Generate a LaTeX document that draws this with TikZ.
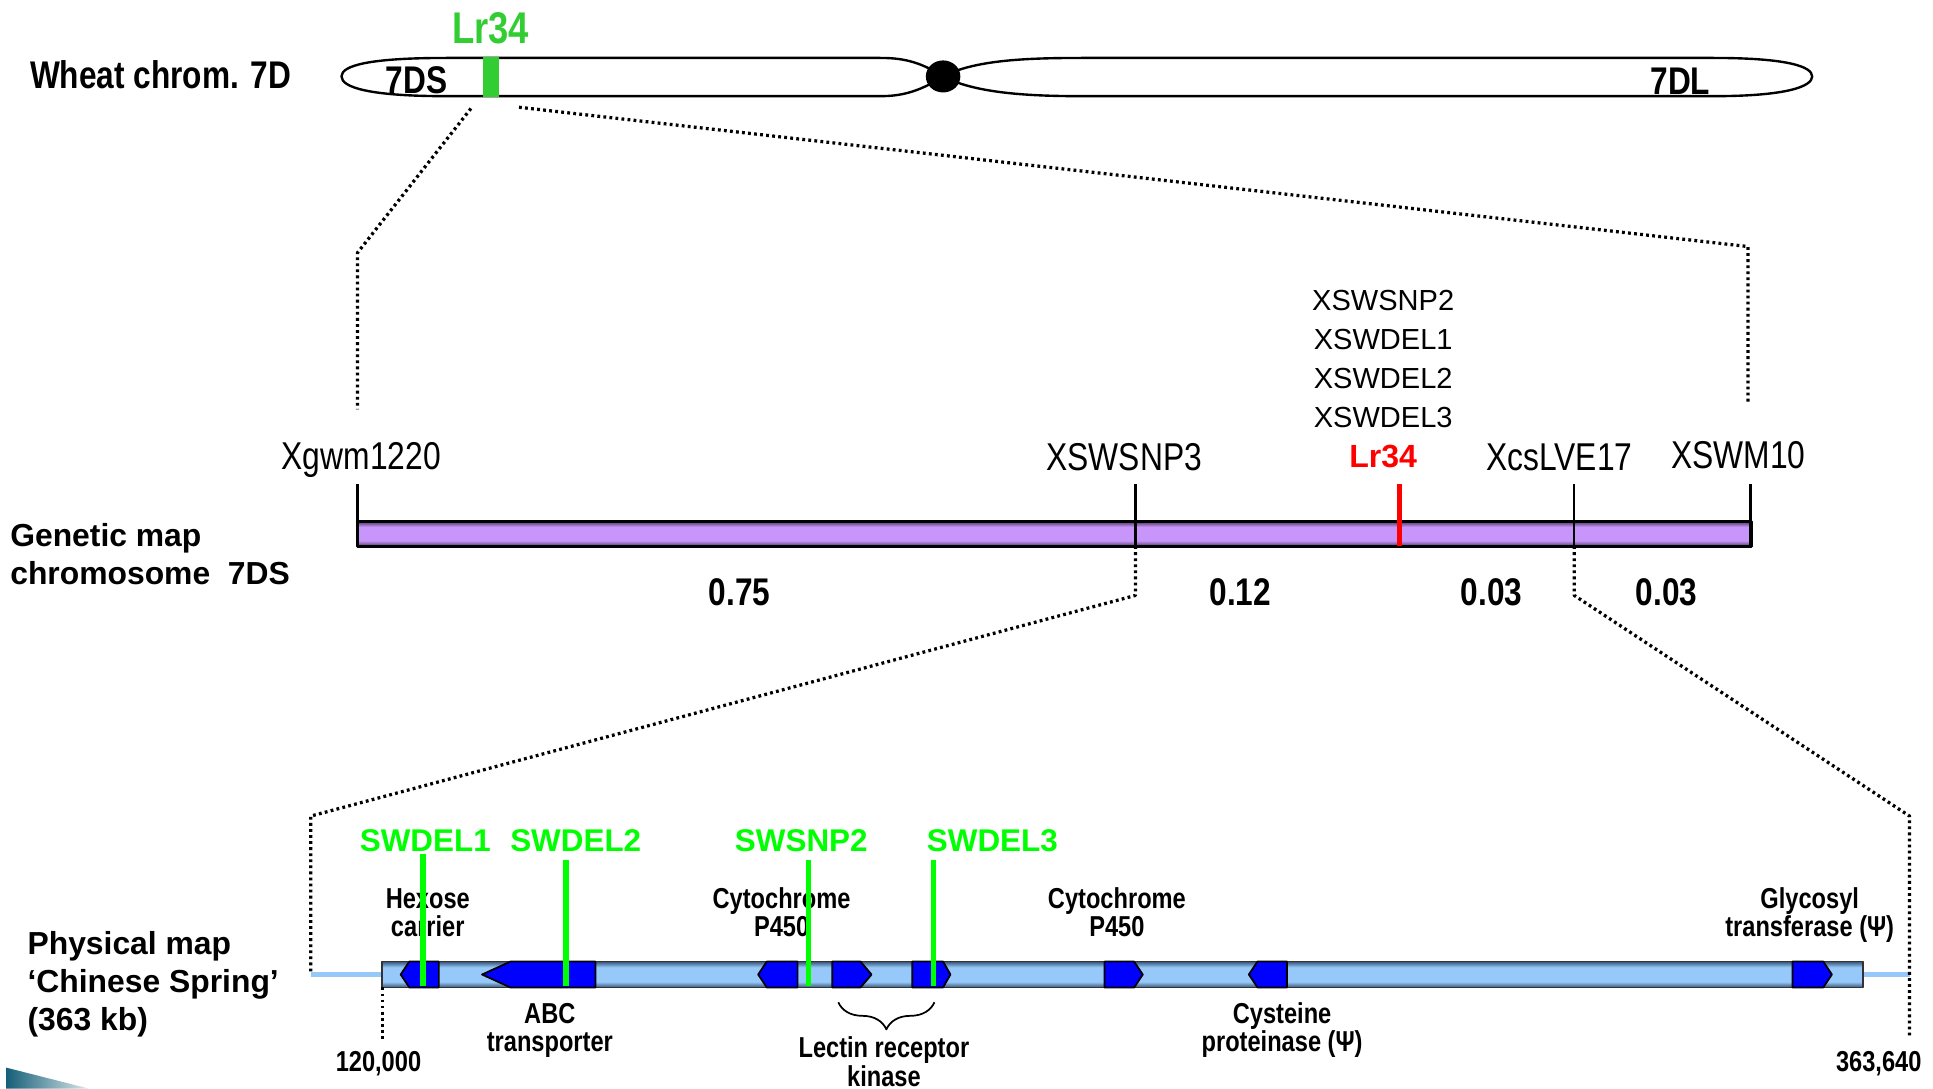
\documentclass[tikz,border=0pt]{standalone}
\usepackage{fontspec}
\setmainfont{Liberation Sans}
\newfontfamily\narrowfont{Liberation Sans}[FakeStretch=0.82]
\usetikzlibrary{calc}
\usetikzlibrary{decorations.pathreplacing}

\definecolor{lrGreen}{RGB}{50,205,50}
\definecolor{markGreen}{RGB}{0,255,0}
\definecolor{mapPurple}{RGB}{200,150,250}
\definecolor{mapPurpleDark}{RGB}{80,55,105}
\definecolor{physBlue}{RGB}{150,200,250}
\definecolor{physBlueDark}{RGB}{55,85,120}
\definecolor{geneBlue}{RGB}{0,0,255}
\definecolor{slideTeal}{RGB}{20,95,120}

% tube look of the two map bars
\pgfdeclareverticalshading{tubePurple}{100bp}{color(0bp)=(mapPurpleDark); color(25bp)=(mapPurpleDark); color(36bp)=(mapPurple); color(64bp)=(mapPurple); color(75bp)=(mapPurpleDark); color(100bp)=(mapPurpleDark)}
\pgfdeclareverticalshading{tubeBlue}{100bp}{color(0bp)=(physBlueDark); color(25bp)=(physBlueDark); color(36bp)=(physBlue); color(64bp)=(physBlue); color(75bp)=(physBlueDark); color(100bp)=(physBlueDark)}

\begin{document}
\begin{tikzpicture}[
    x=0.2mm, y=-0.2mm,
    line join=round,
    chromText/.style  = {font=\narrowfont\bfseries\fontsize{17.8}{20}\selectfont, anchor=base, inner sep=0pt},
    markerText/.style = {font=\narrowfont\fontsize{17.9}{20}\selectfont, anchor=base, inner sep=0pt},
    stackText/.style  = {font=\fontsize{13.4}{16}\selectfont, anchor=base, inner sep=0pt},
    sideText/.style   = {font=\bfseries\fontsize{14.7}{16}\selectfont, anchor=base west, inner sep=0pt},
    geneText/.style   = {font=\narrowfont\bfseries\fontsize{13.3}{15}\selectfont, anchor=base, inner sep=0pt},
    delText/.style    = {font=\bfseries\fontsize{14.5}{16}\selectfont, text=markGreen, anchor=base, inner sep=0pt},
    linkLine/.style   = {line width=1.5pt, dash pattern=on 1.3pt off 1.5pt},
    ]

    % Determines the boundries
    \path[use as bounding box] (0,0) rectangle (1568,883);

    \def\chromTop{47}
    \def\chromBot{78}
    \def\chromMid{62}
    \def\cenX{765}          % centromere
    \def\mapTop{423}        % genetic map bar
    \def\mapBot{443}
    \def\tickTop{393}
    \def\physTop{780}       % physical map bar
    \def\physBot{801}
    \def\physMid{790.5}

    % ends of the dotted zoom lines
    \coordinate (chromL)   at (382,88);
    \coordinate (chromR)   at (421,87);
    \coordinate (gmKneeL)  at (290,205);
    \coordinate (gmKneeR)  at (1418,200);
    \coordinate (gmEndL)   at (290,332);
    \coordinate (gmEndR)   at (1418,327);
    \coordinate (snpBot)   at (921,\mapBot);
    \coordinate (snpKnee)  at (921,483);
    \coordinate (lveBot)   at (1277,\mapBot);
    \coordinate (lveKnee)  at (1277,483);
    \coordinate (pmKneeL)  at (252,662);
    \coordinate (pmKneeR)  at (1549,662);
    \coordinate (stubL)    at (252,\physMid);
    \coordinate (stubR)    at (1549,\physMid);
    \coordinate (pmEndR)   at (1549,840);
    \coordinate (barL)     at (310,\physMid);
    \coordinate (barR)     at (1511,\physMid);
    \coordinate (startTop) at (310,\physBot);
    \coordinate (startBot) at (310,845);

    % ---- Wheat chromosome 7D ----
    \node[chromText, anchor=base west] (wheatLbl) at (24,72) {Wheat chrom. 7D};

    % short arm
    \draw[line width=1.1pt] (\cenX,\chromMid)
        .. controls (745,49) and (730,\chromTop) .. (714,\chromTop) -- (362,\chromTop)
        .. controls (300,\chromTop) and (277,53) .. (277,\chromMid)
        .. controls (277,71) and (300,\chromBot) .. (362,\chromBot) -- (714,\chromBot)
        .. controls (730,\chromBot) and (745,75) .. (\cenX,\chromMid);
    % long arm
    \draw[line width=1.1pt] (\cenX,\chromMid)
        .. controls (790,49) and (830,\chromTop) .. (877,\chromTop) -- (1390,\chromTop)
        .. controls (1450,\chromTop) and (1470,54) .. (1470,\chromMid)
        .. controls (1470,70) and (1450,\chromBot) .. (1390,\chromBot) -- (877,\chromBot)
        .. controls (830,\chromBot) and (790,75) .. (\cenX,\chromMid);
    \fill[black] (\cenX,\chromMid) ellipse [x radius=14, y radius=13];
    \fill[lrGreen] (392,46) rectangle (405,79);

    \node[chromText] (armS) at (338,76) {7DS};
    \node[chromText] (armL) at (1363,77) {7DL};
    \node[chromText, font=\narrowfont\bfseries\fontsize{20.5}{22}\selectfont, text=lrGreen] (lrTop) at (398,35) {Lr34};

    % ---- Genetic map ----
    \node[sideText] (genLbl)   at (8,443) {Genetic map};
    \node[sideText] (chromLbl) at (8,474) {chromosome\ \ 7DS};

    \shade[shading=tubePurple] (290,\mapTop) rectangle (1421,\mapBot);
    \draw[line width=1.4pt] (290,\mapTop) rectangle (1421,\mapBot);

    \foreach \x/\name/\txt/\bl in {293/xgwm/Xgwm1220/381, 912/xsnpThree/XSWSNP3/382,
                                   1265/xlve/XcsLVE17/382, 1410/xswm/XSWM10/380}{
        \node[markerText] (\name) at (\x,\bl) {\txt};
    }
    \foreach \x in {290,921,1277,1420}{
        \draw[line width=1.1pt] (\x,\tickTop) -- (\x,\mapBot);
    }
    \draw[red, line width=2.2pt] (1135,\tickTop) -- (1135,\mapBot);

    \node[stackText, font=\bfseries\fontsize{14.8}{16}\selectfont, text=red] (lrMap) at (1122,379) {Lr34};
    \foreach \txt [count=\i] in {XSWSNP2,XSWDEL1,XSWDEL2,XSWDEL3}{
        \node[stackText] (stack\i) at (1122,{252+31.7*(\i-1)}) {\txt};
    }
    \foreach \x/\d [count=\i] in {600/0.75, 1006/0.12, 1210/0.03, 1352/0.03}{
        \node[chromText] (dist\i) at (\x,491) {\d};
    }

    % ---- Physical map ----
    \node[sideText] (physLbl)   at (22,774) {Physical map};
    \node[sideText] (springLbl) at (22,805) {‘Chinese Spring’};
    \node[sideText] (sizeLbl)   at (22,836) {(363 kb)};

    \draw[physBlue, line width=1.9pt] (stubL) -- (barL);
    \draw[physBlue, line width=1.9pt] (barR) -- (stubR);
    \shade[shading=tubeBlue] (310,\physTop) rectangle (1511,\physBot);
    \draw[line width=0.8pt, black!80] (310,\physTop) rectangle (1511,\physBot);

    % genes: flat end / tip / signed tip length
    \foreach \xs/\xt/\tl in {356/325/-7, 483/391/-23, 647/615/-7, 675/707/9,
                             740/771/6, 896/927/7, 1044/1013/-7, 1454/1486/7}{
        \draw[fill=geneBlue, line width=0.8pt]
            (\xs,\physTop) -- (\xt-\tl,\physTop) -- (\xt,\physMid)
            -- (\xt-\tl,\physBot) -- (\xs,\physBot) -- cycle;
    }

    \def\geneLbl#1#2#3#4#5{
        \node[geneText] (#1Top) at (#2,#3) {#4};
        \node[geneText] (#1Bot) at (#2,#3+23) {#5};
    }
    \geneLbl{hexose}{347}{737}{Hexose}{carrier}
    \geneLbl{cypA}{634}{737}{Cytochrome}{P450}
    \geneLbl{cypB}{906}{737}{Cytochrome}{P450}
    \geneLbl{glyco}{1468}{737}{Glycosyl}{transferase (Ψ)}
    \geneLbl{abc}{446}{830}{ABC}{transporter}
    \geneLbl{lectin}{717}{858}{Lectin receptor}{kinase}
    \geneLbl{cyst}{1040}{830}{Cysteine}{proteinase (Ψ)}

    \draw[line width=0.8pt, decorate, decoration={brace, amplitude=4.4mm}] (758,813) -- (680,813);

    \node[geneText] (startPos) at (307,869) {120,000};
    \node[geneText] (endPos)   at (1524,869) {363,640};

    % markers on the physical map
    \foreach \x/\top/\txt/\lx in {343/693/SWDEL1/345, 459/698/SWDEL2/467,
                                  656/698/SWSNP2/650, 757/698/SWDEL3/805}{
        \draw[markGreen, line width=2.5pt] (\x,\top) -- (\x,800);
        \node[delText] (\txt) at (\lx,691) {\txt};
    }

    % ---- dotted zoom lines ----
    \draw[linkLine] (chromL) -- (gmKneeL) -- (gmEndL);
    \draw[linkLine] (chromR) -- (gmKneeR) -- (gmEndR);
    \draw[linkLine] (snpBot) -- (snpKnee) -- (pmKneeL) -- (stubL);
    \draw[linkLine] (lveBot) -- (lveKnee) -- (pmKneeR) -- (pmEndR);
    \draw[linkLine] (startTop) -- (startBot);

    % slide corner
    \shade[left color=slideTeal, right color=slideTeal!15] (5,866) -- (72,883) -- (5,883) -- cycle;
\end{tikzpicture}
\end{document}
